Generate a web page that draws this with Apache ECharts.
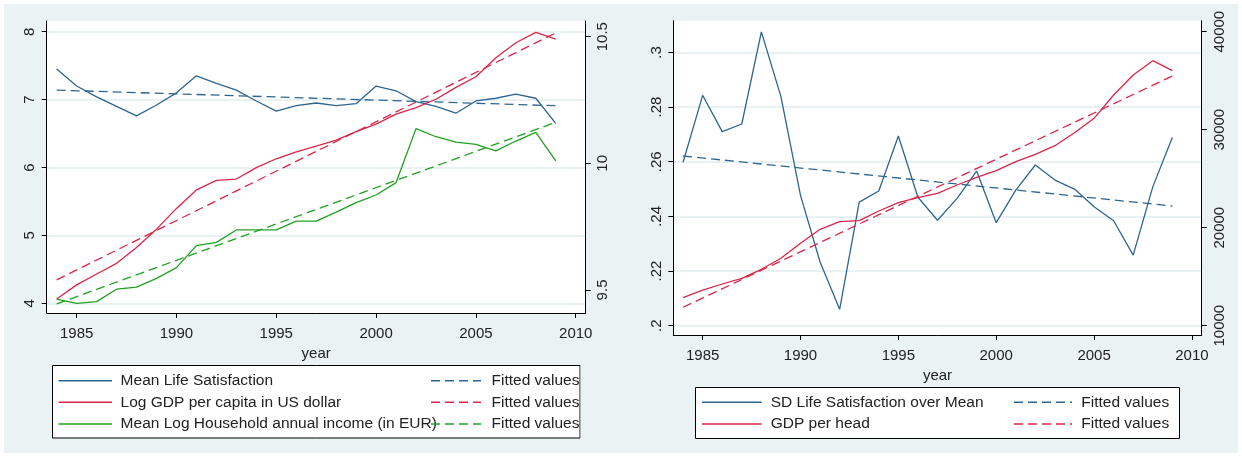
<!DOCTYPE html>
<html>
<head>
<meta charset="utf-8">
<script src="https://cdn.jsdelivr.net/npm/echarts@6/dist/echarts.min.js"></script>
<style>
    * { margin: 0; padding: 0; }
    body { background: #fff; }
    #main { width: 1242px; height: 457px; background: #eaf2f3; box-shadow: inset 0 0 0 4px #fff; }
</style>
</head>
<body>
<div id="main"></div>
<script>
// data
var years = [1984, 1985, 1986, 1987, 1988, 1989, 1990, 1991, 1992, 1993, 1994, 1995, 1996,
             1997, 1998, 1999, 2000, 2001, 2002, 2003, 2004, 2005, 2006, 2007, 2008, 2009];

// left panel
var lifeSat = [7.45, 7.20, 7.04, 6.90, 6.76, 6.92, 7.10, 7.35, 7.24, 7.14, 6.98, 6.83, 6.91,
               6.95, 6.91, 6.94, 7.20, 7.13, 6.97, 6.90, 6.80, 6.98, 7.02, 7.08, 7.02, 6.65];
var logGdp = [9.464, 9.52, 9.563, 9.605, 9.668, 9.740, 9.822, 9.895, 9.933, 9.938, 9.983, 10.018, 10.045,
              10.068, 10.092, 10.125, 10.155, 10.194, 10.22, 10.253, 10.30, 10.342, 10.417, 10.476, 10.517, 10.49];
var logIncome = [9.464, 9.447, 9.454, 9.503, 9.511, 9.546, 9.588, 9.675, 9.688, 9.737, 9.737, 9.737, 9.772,
                 9.772, 9.807, 9.845, 9.875, 9.924, 10.137, 10.105, 10.084, 10.075, 10.049, 10.088, 10.122, 10.01];
var fitYears = [1984, 2009];
var fitLifeSat = [7.14, 6.91];
var fitLogGdp = [9.54, 10.515];
var fitLogIncome = [9.445, 10.162];

// right panel
var sdLifeSat = [0.2598, 0.2843, 0.2710, 0.2738, 0.3075, 0.2838, 0.2477, 0.2233, 0.2060, 0.2452, 0.2493, 0.2694, 0.2470,
                 0.2386, 0.2466, 0.2566, 0.2377, 0.2496, 0.2588, 0.2533, 0.2500, 0.2435, 0.2384, 0.2258, 0.2508, 0.2689];
var gdpHead = [12860, 13640, 14255, 14835, 15755, 16877, 18408, 19837, 20612, 20714, 21704, 22551, 23061,
               23500, 24357, 25143, 25816, 26735, 27490, 28367, 29694, 31163, 33541, 35582, 37041, 36020];
var fitSdLifeSat = [0.2621, 0.2438];
var fitGdpHead = [11880, 35480];

// tick labels
var xTicks = [1985, 1990, 1995, 2000, 2005, 2010];
var lifeTicks = [4, 5, 6, 7, 8];
var logTicks = [9.5, 10, 10.5];
var sdTicks = [0.2, 0.22, 0.24, 0.26, 0.28, 0.3];
var gdpTicks = [10000, 20000, 30000, 40000];

var FONT = "'Liberation Sans', Arial, sans-serif";
var BLUE = '#2d6590', RED = '#d9264a', GREEN = '#22a022';

function pairs(xs, ys) {
    return xs.map(function (x, i) { return [x, ys[i]]; });
}

function plain(v) { return String(v); }

function xAxisFor(g) {
    return {
        type: 'value', gridIndex: g, min: 1983.5, max: 2010.5,
        name: 'year', nameLocation: 'middle', nameGap: 25,
        nameTextStyle: { fontSize: 15, color: '#222', fontFamily: FONT },
        axisLine: { show: true, onZero: false, lineStyle: { color: '#000', width: 1 } },
        axisTick: { show: true, length: 5, customValues: xTicks, lineStyle: { color: '#000' } },
        axisLabel: { customValues: xTicks, margin: 13, fontSize: 15, color: '#222', fontFamily: FONT,
                     formatter: plain },
        splitLine: { show: false }
    };
}

function yAxisFor(g, pos, min, max, ticks, grid, margin, fmt) {
    return {
        type: 'value', gridIndex: g, position: pos, min: min, max: max,
        axisLine: { show: true, onZero: false, lineStyle: { color: '#000', width: 1 } },
        axisTick: { show: true, length: 5, customValues: ticks, lineStyle: { color: '#000' } },
        axisLabel: { customValues: ticks, rotate: 90, margin: margin, fontSize: 15, color: '#222',
                     fontFamily: FONT, formatter: fmt },
        splitLine: { show: grid, lineStyle: { color: '#e3ecee', width: 1.5 } }
    };
}

function lineSeries(name, xi, yi, data, color, dashed) {
    return {
        name: name, type: 'line', xAxisIndex: xi, yAxisIndex: yi, data: data,
        symbol: 'none', silent: true, animation: false,
        lineStyle: { color: color, width: 1.3, type: dashed ? [9, 5] : 'solid' }
    };
}

function legendRow(x1, x2, xt, y, color, dashed, label) {
    return [
        { type: 'line', shape: { x1: x1, y1: y, x2: x2, y2: y },
          style: { stroke: color, lineWidth: 1.5, lineDash: dashed ? [9, 5] : null } },
        { type: 'text', x: xt, y: y,
          style: { text: label, fill: '#222', fontSize: 15.5, fontFamily: FONT, verticalAlign: 'middle' } }
    ];
}

var graphics = [];
graphics.push({ type: 'rect', shape: { x: 52.5, y: 365.5, width: 527.5, height: 72.5 },
                style: { fill: '#fff', stroke: '#000', lineWidth: 1 } });
graphics = graphics.concat(
    legendRow(58.5, 112, 120.6, 380.7, BLUE, false, 'Mean Life Satisfaction'),
    legendRow(58.5, 112, 120.6, 402.3, RED, false, 'Log GDP per capita in US dollar'),
    legendRow(58.5, 112, 120.6, 424, GREEN, false, 'Mean Log Household annual income (in EUR)'),
    legendRow(431, 481, 491.5, 380.7, BLUE, true, 'Fitted values'),
    legendRow(431, 481, 491.5, 402.3, RED, true, 'Fitted values'),
    legendRow(431, 481, 491.5, 424, GREEN, true, 'Fitted values')
);
graphics.push({ type: 'rect', shape: { x: 580.5, y: 366, width: 12, height: 72 },
                style: { fill: '#eaf2f3' } });
graphics.push({ type: 'rect', shape: { x: 695.5, y: 387.5, width: 484, height: 51 },
                style: { fill: '#fff', stroke: '#000', lineWidth: 1 } });
graphics = graphics.concat(
    legendRow(702, 761.6, 770.7, 402.3, BLUE, false, 'SD Life Satisfaction over Mean'),
    legendRow(702, 761.6, 770.7, 424, RED, false, 'GDP per head'),
    legendRow(1014, 1072, 1081.3, 402.3, BLUE, true, 'Fitted values'),
    legendRow(1014, 1072, 1081.3, 424, RED, true, 'Fitted values')
);

var chart = echarts.init(document.getElementById('main'));
chart.setOption({
    animation: false,
    textStyle: { fontFamily: FONT },
    grid: [
        { left: 46.7, top: 21, width: 539, height: 292, show: true, backgroundColor: '#fff', borderWidth: 0 },
        { left: 673.3, top: 20.7, width: 528.4, height: 314.3, show: true, backgroundColor: '#fff', borderWidth: 0 }
    ],
    xAxis: [xAxisFor(0), xAxisFor(1)],
    yAxis: [
        yAxisFor(0, 'left', 3.857, 8.158, lifeTicks, true, 9, plain),
        yAxisFor(0, 'right', 9.409, 10.562, logTicks, false, 10, plain),
        yAxisFor(1, 'left', 0.1966, 0.3116, sdTicks, true, 9, function (v) { return String(v).replace(/^0/, ''); }),
        yAxisFor(1, 'right', 9051, 41122, gdpTicks, false, 11, plain)
    ],
    series: [
        lineSeries('Mean Life Satisfaction', 0, 0, pairs(years, lifeSat), BLUE, false),
        lineSeries('Fitted values', 0, 0, pairs(fitYears, fitLifeSat), BLUE, true),
        lineSeries('Log GDP per capita in US dollar', 0, 1, pairs(years, logGdp), RED, false),
        lineSeries('Fitted values', 0, 1, pairs(fitYears, fitLogGdp), RED, true),
        lineSeries('Mean Log Household annual income (in EUR)', 0, 1, pairs(years, logIncome), GREEN, false),
        lineSeries('Fitted values', 0, 1, pairs(fitYears, fitLogIncome), GREEN, true),
        lineSeries('SD Life Satisfaction over Mean', 1, 2, pairs(years, sdLifeSat), BLUE, false),
        lineSeries('Fitted values', 1, 2, pairs(fitYears, fitSdLifeSat), BLUE, true),
        lineSeries('GDP per head', 1, 3, pairs(years, gdpHead), RED, false),
        lineSeries('Fitted values', 1, 3, pairs(fitYears, fitGdpHead), RED, true)
    ],
    graphic: graphics
});
</script>
</body>
</html>
